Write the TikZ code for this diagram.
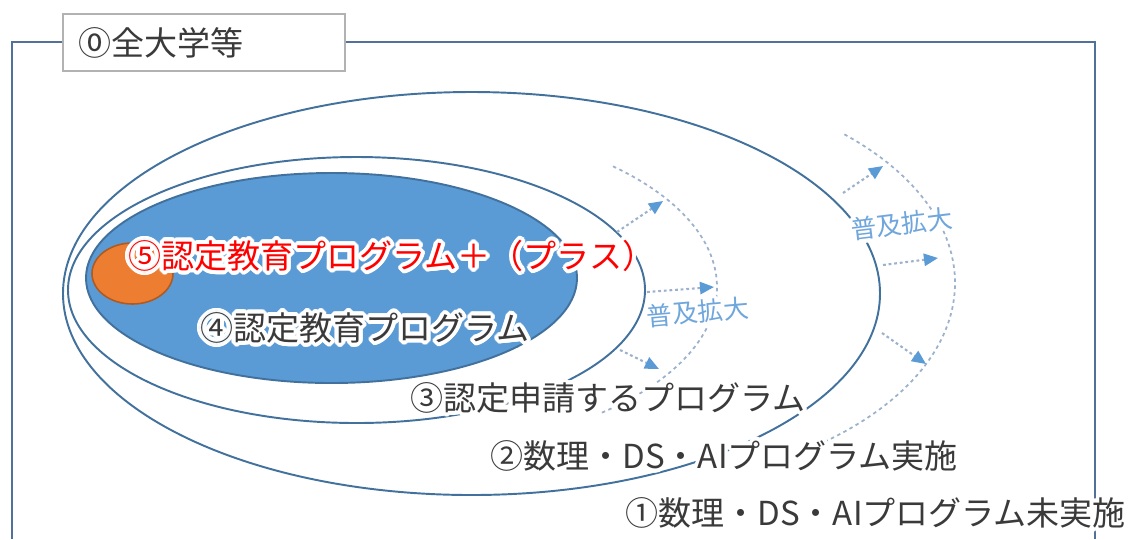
\documentclass[tikz,border=0pt]{standalone}
\usepackage{fontspec}
\setmainfont{Noto Sans CJK JP}
\usepackage{contour}
\contourlength{2.2pt}
\contournumber{20}
\usetikzlibrary{arrows.meta}
\definecolor{rimblue}{HTML}{41719C}
\definecolor{fillblue}{HTML}{5B9BD5}
\definecolor{coreorange}{HTML}{ED7D31}
\definecolor{corerim}{HTML}{AE5A21}
\definecolor{framegray}{HTML}{52719A}
\definecolor{inkgray}{HTML}{3A3A3A}
\definecolor{spreadblue}{HTML}{6FA6DC}
\definecolor{spreadgray}{HTML}{9CB2CC}
\tikzset{
	ring/.style={draw=rimblue, line width=1.1pt},
	spreadarc/.style={draw=spreadgray, line width=1pt, dash pattern=on 2pt off 2pt},
	spreadarrow/.style={draw=spreadgray, line width=1.2pt, dash pattern=on 1.6pt off 1.6pt,
		-{Triangle[length=8pt, width=7pt, color=fillblue, fill=fillblue]}},
	levellabel/.style={inner sep=0pt, anchor=west, text=inkgray, font=\fontsize{18.8}{22}\selectfont},
	spreadlabel/.style={inner sep=0pt, text=spreadblue, font=\fontsize{14.5}{17}\selectfont},
	tagbox/.style={draw=black!30, fill=white, line width=0.8pt, inner sep=0pt}
}
\newcommand{\halo}[1]{\contour{white}{#1}}

\begin{document}
\begin{tikzpicture}[x=0.02cm, y=-0.02cm]
	\useasboundingbox (0,0) rectangle (1131,539);

	% frame of all universities
	\draw[framegray, line width=1.6pt] (12,539) -- (12,42) -- (1095,42) -- (1095,539);
	\node[tagbox, minimum width=5.64cm, minimum height=1.14cm] (tag) at (204,42.5) {};
	\node[levellabel] (tagtext) at (78,43) {⓪全大学等};

	% nested levels
	\draw[ring] (471.5,293.5) ellipse [x radius=408.5, y radius=201.5];
	\draw[ring] (356.5,290) ellipse [x radius=288.5, y radius=133];
	\draw[ring, fill=fillblue] (331.5,278) ellipse [x radius=245.5, y radius=105];
	\draw[draw=corerim, line width=0.9pt, fill=coreorange] (132.5,273.5) ellipse [x radius=40.5, y radius=30.5];

	% spreading
	\draw[spreadarc] (390,287) ++(-47:327 and 165) arc [start angle=-47, end angle=50, x radius=327, y radius=165];
	\draw[spreadarc] (600,283) ++(-46.5:355 and 205) arc [start angle=-46.5, end angle=55, x radius=355, y radius=205];

	\coordinate (in1) at (617,232);	\coordinate (out1) at (663,201);
	\coordinate (in2) at (647,292);	\coordinate (out2) at (714,287);
	\coordinate (in3) at (620,350);	\coordinate (out3) at (659,369);
	\coordinate (in4) at (843,193);	\coordinate (out4) at (883,166);
	\coordinate (in5) at (883,265);	\coordinate (out5) at (938,258);
	\coordinate (in6) at (882,333);	\coordinate (out6) at (926,364);
	\foreach \i in {1,...,6}
		\draw[spreadarrow] (in\i) -- (out\i);

	\node[spreadlabel, rotate=5] (spreadin) at (698,314) {\halo{普及拡大}};
	\node[spreadlabel, rotate=7] (spreadout) at (902,226) {\halo{普及拡大}};

	% level names
	\node[levellabel, text=red] (plus) at (128,258) {\halo{⑤認定教育プログラム＋（プラス）}};
	\node[levellabel] (cert) at (200,330) {\halo{④認定教育プログラム}};
	\node[levellabel] (apply) at (410,400) {\halo{③認定申請するプログラム}};
	\node[levellabel] (done) at (490,458) {\halo{②数理・DS・AIプログラム実施}};
	\node[levellabel] (notyet) at (625,515) {\halo{①数理・DS・AIプログラム未実施}};

\end{tikzpicture}
\end{document}
